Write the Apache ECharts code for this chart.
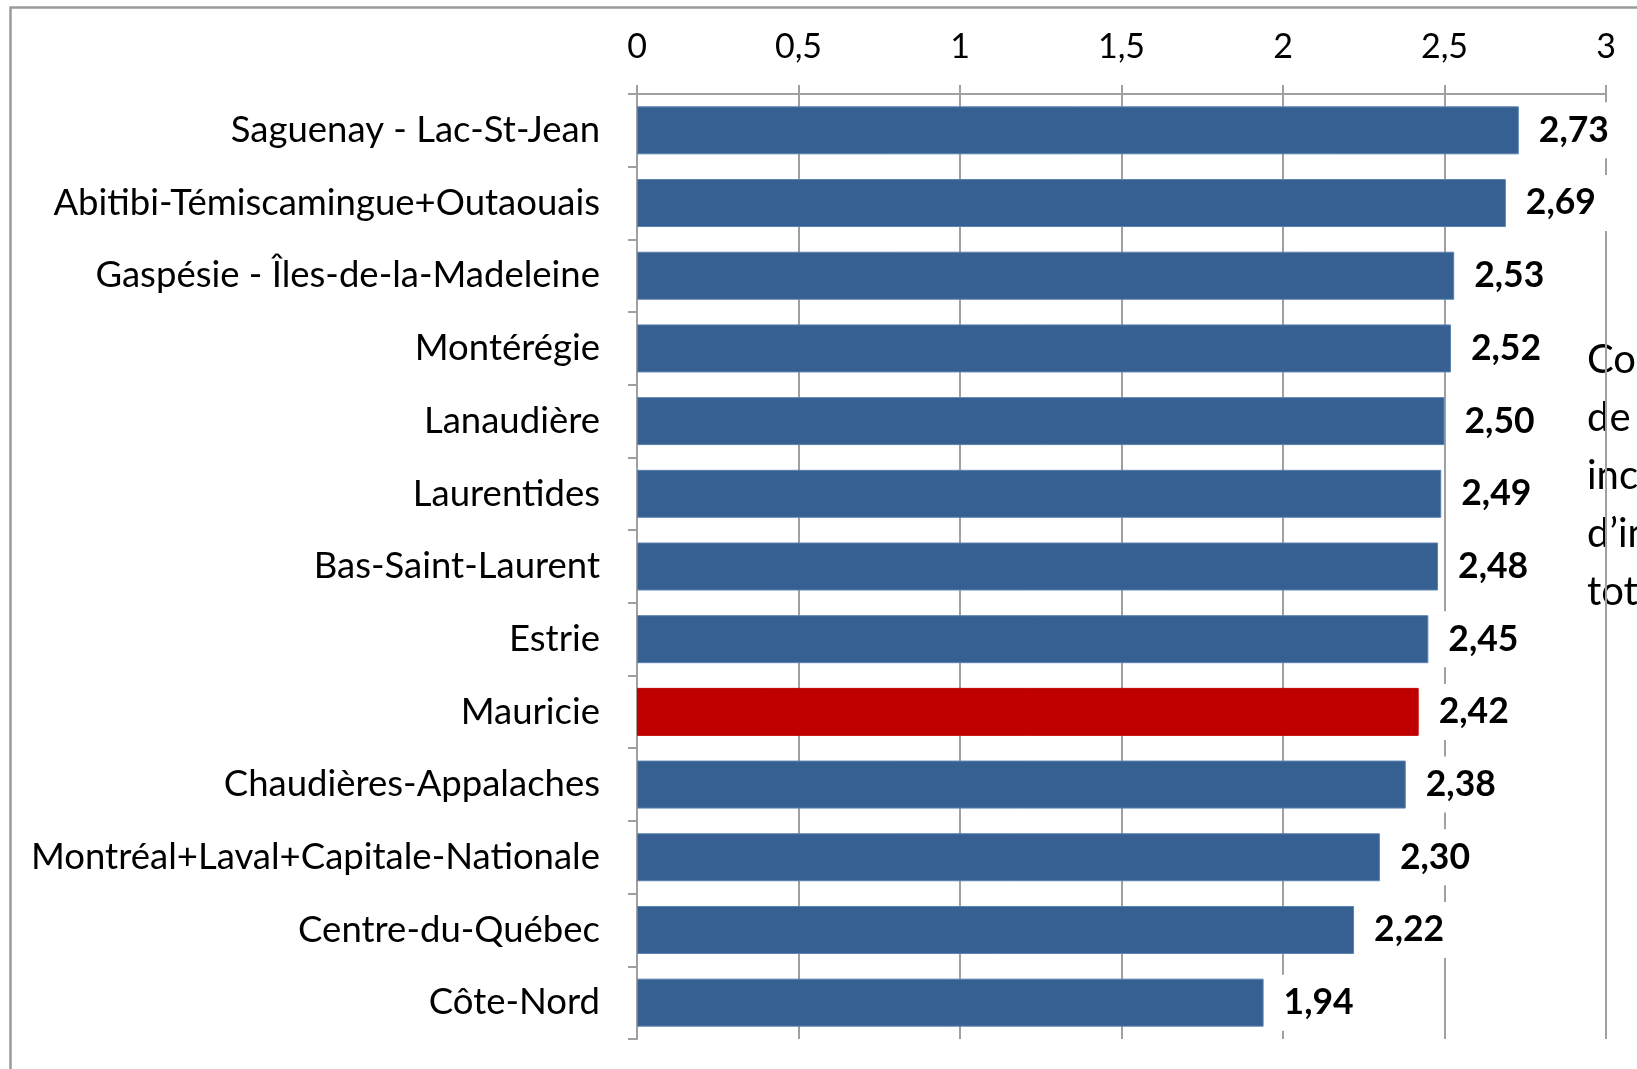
<!DOCTYPE html>
<html>
<head>
<meta charset="utf-8">
<script src="https://cdn.jsdelivr.net/npm/echarts@6/dist/echarts.min.js"></script>
<style>
html,body{margin:0;padding:0;background:#fff;}
#chart{width:1637px;height:1069px;}
</style>
</head>
<body>
<div id="chart"></div>
<script>
const categories = [
  'Saguenay - Lac-St-Jean',
  'Abitibi-Témiscamingue+Outaouais',
  'Gaspésie - Îles-de-la-Madeleine',
  'Montérégie',
  'Lanaudière',
  'Laurentides',
  'Bas-Saint-Laurent',
  'Estrie',
  'Mauricie',
  'Chaudières-Appalaches',
  'Montréal+Laval+Capitale-Nationale',
  'Centre-du-Québec',
  'Côte-Nord'
];
const values = [2.73, 2.69, 2.53, 2.52, 2.50, 2.49, 2.48, 2.45, 2.42, 2.38, 2.30, 2.22, 1.94];
const highlighted = 'Mauricie';
const sideText = ['Coefficient', 'de', 'incidence', 'd’intensité', 'totale'];

const FONT = 'Lato';
const chart = echarts.init(document.getElementById('chart'), null, {renderer: 'canvas'});

const seriesData = values.map((v, i) => ({
  value: v,
  itemStyle: categories[i] === highlighted ? {color: '#C00000', borderColor: '#C00000'} : undefined
}));

chart.setOption({
  animation: false,
  backgroundColor: '#fff',
  grid: {left: 637, top: 94, width: 969, height: 945, containLabel: false},
  xAxis: {
    type: 'value',
    position: 'top',
    min: 0, max: 3, interval: 0.5,
    axisLine: {show: true, lineStyle: {color: '#A0A0A0', width: 2}},
    axisTick: {show: true, inside: false, length: 9, lineStyle: {color: '#A0A0A0', width: 2}},
    splitLine: {show: true, lineStyle: {color: '#A0A0A0', width: 2}},
    axisLabel: {
      margin: 30, color: '#000', fontFamily: FONT, fontSize: 34,
      formatter: v => String(v).replace('.', ',')
    }
  },
  yAxis: {
    type: 'category',
    data: categories,
    inverse: true,
    axisLine: {show: true, lineStyle: {color: '#A0A0A0', width: 2}},
    axisTick: {show: true, alignWithLabel: false, length: 9, lineStyle: {color: '#A0A0A0', width: 2}},
    axisLabel: {margin: 37, color: '#000', fontFamily: FONT, fontSize: 36.5}
  },
  series: [{
    type: 'bar',
    data: seriesData,
    barCategoryGap: '34%',
    itemStyle: {color: '#376092', borderColor: '#5A82B0', borderWidth: 1},
    z: 2,
    label: {
      show: true,
      position: 'right',
      distance: 8,
      padding: [10, 12],
      backgroundColor: '#fff',
      color: '#000',
      fontFamily: FONT,
      fontWeight: 'bold',
      fontSize: 35.5,
      formatter: p => p.value.toFixed(2).replace('.', ',')
    }
  }],
  graphic: [
    {
      type: 'rect',
      left: 8, top: 5,
      shape: {width: 2000, height: 2000},
      style: {fill: 'none', stroke: '#9A9A9A', lineWidth: 2.5},
      silent: true
    },
    {
      type: 'text',
      left: 1587, top: 331,
      style: {
        text: sideText.join('\n'),
        fill: '#000',
        font: '40px ' + FONT,
        lineHeight: 58
      }
    }
  ]
});
</script>
</body>
</html>
